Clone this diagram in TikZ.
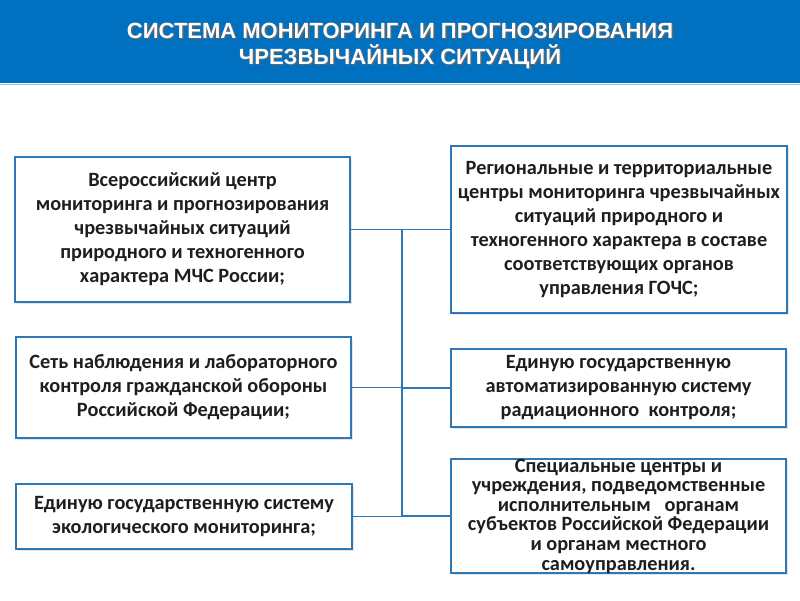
\documentclass[tikz,border=0pt]{standalone}
\usepackage{fontspec}
\setmainfont{Carlito}
\newfontfamily\titlefont{Liberation Sans}
\usepackage{xcolor}
\usepackage{tikz}
\usetikzlibrary{calc, positioning, shadows}

\definecolor{bannerblue}{HTML}{0070C0}
\definecolor{framecol}{HTML}{2E78B8}
\definecolor{txtcol}{HTML}{1E1E1E}

\tikzset{
    box/.style={draw=framecol, line width=1.6pt, fill=white, text=txtcol,
        align=center, inner sep=0pt,
        font=\fontsize{20.3}{24}\selectfont\bfseries,
        drop shadow={shadow xshift=1.5pt, shadow yshift=-1.5pt, fill=black!20}},
    link/.style={draw=framecol, line width=1.9pt},
    titletext/.style={align=center, font=\titlefont\fontsize{22}{26}\selectfont\bfseries}
}

\begin{document}
\begin{tikzpicture}[x=1pt, y=-1pt]
    \useasboundingbox (0,0) rectangle (800,600);
    % Шапка
    \fill[bannerblue] (0,0) rectangle (800,83);
    \draw[bannerblue!40, line width=1pt] (0,84.5) -- (800,84.5);
    \node[titletext, text=black!60] (titleshadow) at (401.5,47.5)
        {СИСТЕМА МОНИТОРИНГА И ПРОГНОЗИРОВАНИЯ\\ЧРЕЗВЫЧАЙНЫХ СИТУАЦИЙ};
    \node[titletext, text=white] (title) at (400,46)
        {СИСТЕМА МОНИТОРИНГА И ПРОГНОЗИРОВАНИЯ\\ЧРЕЗВЫЧАЙНЫХ СИТУАЦИЙ};

    % Левые блоки
    \node[box, minimum width=335pt, minimum height=145pt] (left1) at (182.5,229.5)
        {Всероссийский центр\\мониторинга и прогнозирования\\чрезвычайных ситуаций\\природного и техногенного\\характера МЧС России;};
    \node[box, minimum width=335pt, minimum height=101pt] (left2) at (183.5,387.5)
        {Сеть наблюдения и лабораторного\\контроля гражданской обороны\\Российской Федерации;};
    \node[box, minimum width=336pt, minimum height=65pt] (left3) at (184,516.5)
        {Единую государственную систему\\экологического мониторинга;};

    % Правые блоки
    \node[box, minimum width=336pt, minimum height=167pt] (right1) at (619,229.5)
        {Региональные и территориальные\\центры мониторинга чрезвычайных\\ситуаций природного и\\техногенного характера в составе\\соответствующих органов\\управления ГОЧС;};
    \node[box, minimum width=335pt, minimum height=78pt] (right2) at (618.5,388)
        {Единую государственную\\автоматизированную систему\\радиационного\ \ контроля;};
    \node[box, font=\fontsize{20.3}{19.6}\selectfont\bfseries,
        minimum width=335pt, minimum height=112pt] (right3) at (618.5,516)
        {Специальные центры и\\учреждения, подведомственные\\исполнительным\ \ \ органам\\субъектов Российской Федерации\\и органам местного\\самоуправления.};

    % Магистраль
    \coordinate (trunktop) at (402,229.5);
    \coordinate (trunkbot) at (402,516);
    \draw[link] (trunktop) -- (trunkbot);

    % Связи
    \foreach \b in {left1,left2,left3} {
        \draw[link] (\b.east) -- (\b.east -| trunktop);
    }
    \foreach \b in {right1,right2,right3} {
        \draw[link] (\b.west) -- (\b.west -| trunktop);
    }
\end{tikzpicture}
\end{document}
